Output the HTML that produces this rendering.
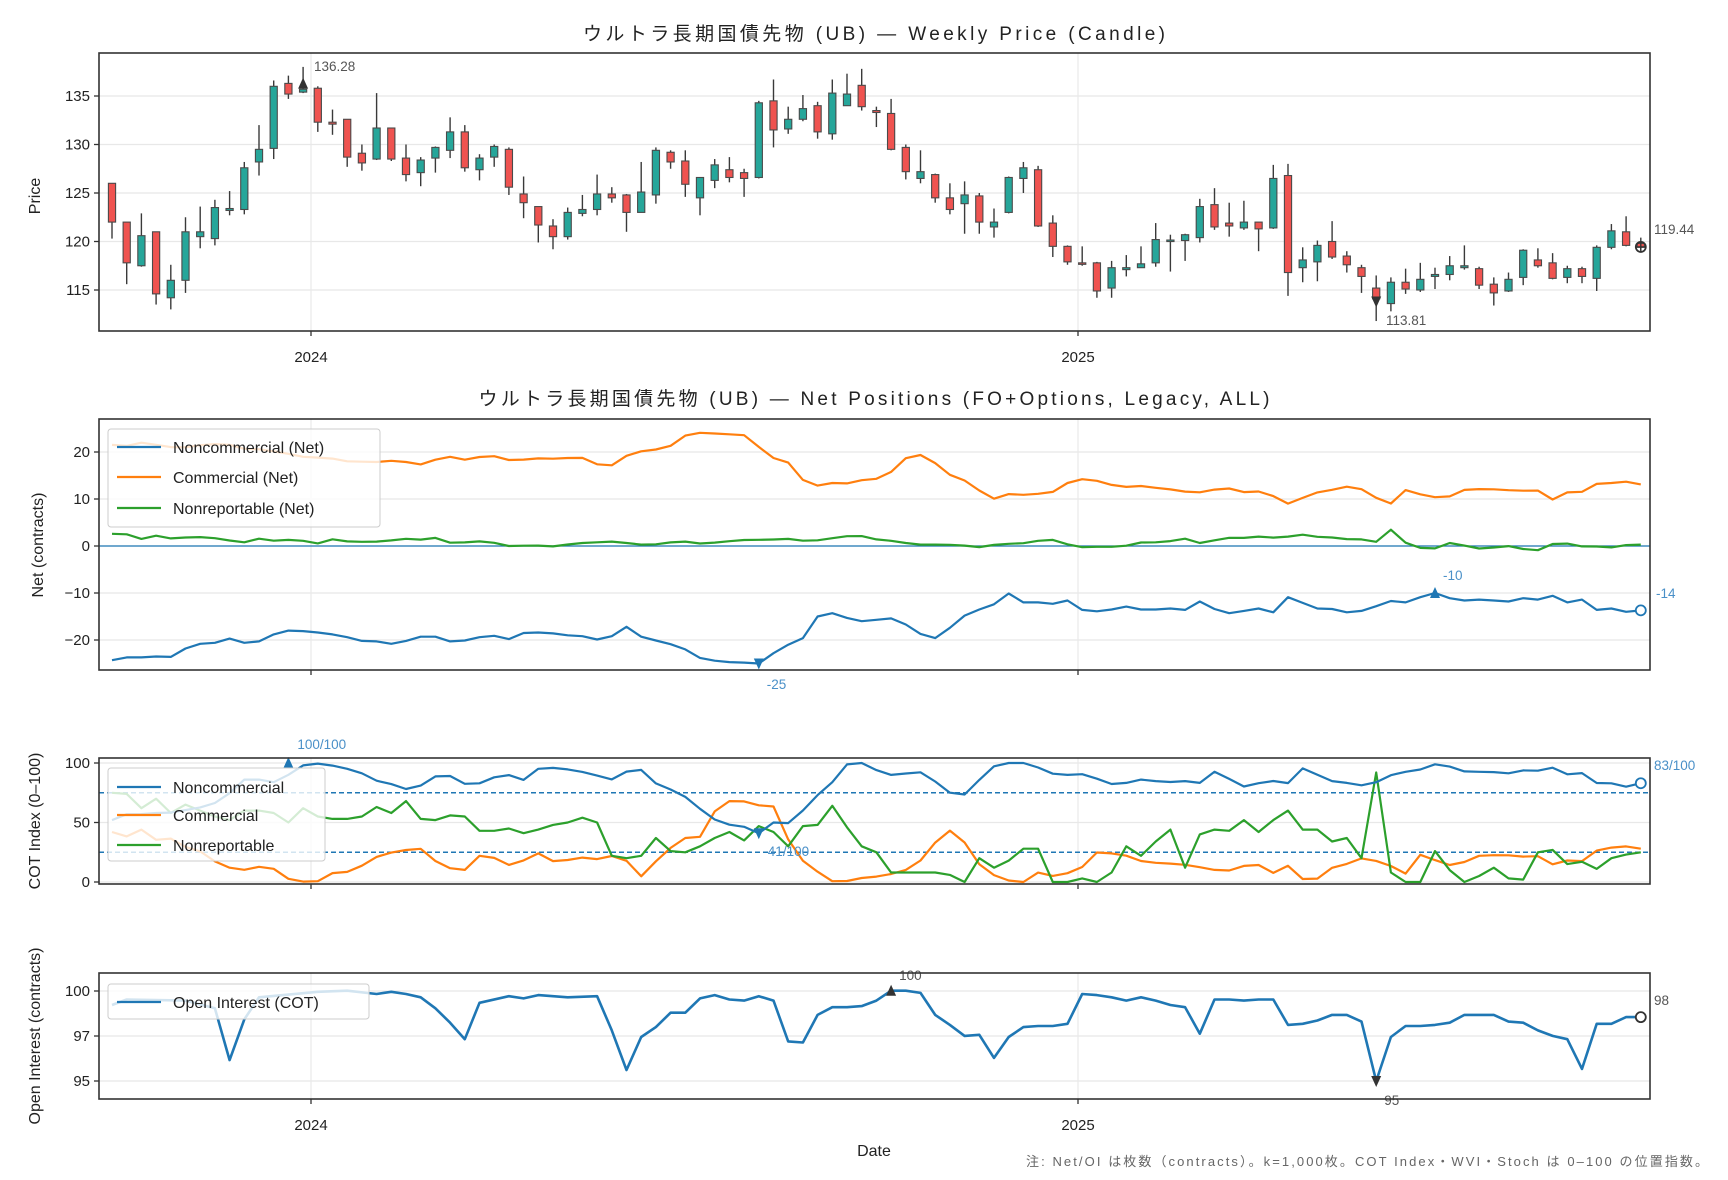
<!DOCTYPE html>
<html><head><meta charset="utf-8"><style>
html,body{margin:0;padding:0;background:#fff;}
svg{display:block;font-family:"Liberation Sans","Noto Sans CJK JP",sans-serif;}
</style></head><body>
<svg id="s" width="1728" height="1180" xmlns="http://www.w3.org/2000/svg"></svg>
<script>
const L=99,R=1650,N=105;
const X=i=>112+i*14.7;
let o='';
function t(x,y,s,sz,anc,fill,extra){o+=`<text x="${x}" y="${y}" font-size="${sz}" text-anchor="${anc||'start'}" fill="${fill||'#222'}" ${extra||''}>${s}</text>`;}
function line(x1,y1,x2,y2,c,w,extra){o+=`<line x1="${x1}" y1="${y1}" x2="${x2}" y2="${y2}" stroke="${c}" stroke-width="${w}" ${extra||''}/>`;}
function res(a){const r=[];for(let i=0;i<N;i++){const tt=i*(a.length-1)/(N-1),k=Math.floor(tt),f=tt-k;r.push(k+1<a.length?a[k]*(1-f)+a[k+1]*f:a[k]);}return r;}
function poly(vals,fy,c,w){let p=vals.map((v,i)=>X(i).toFixed(1)+','+fy(v).toFixed(1)).join(' ');o+=`<polyline points="${p}" fill="none" stroke="${c}" stroke-width="${w}" stroke-linejoin="round"/>`;}
function panel(top,bot,yt,fy){
  yt.forEach(([v,l])=>{const y=fy(v);line(L,y,R,y,'#e8e8e8',1.2);line(L-5,y,L,y,'#333',1.3);t(L-9,y+5,l,15,'end');});
  [311,1078].forEach(x=>{line(x,top,x,bot,'#e8e8e8',1.2);line(x,bot,x,bot+5,'#333',1.3);});
}
function frame(top,bot){o+=`<rect x="${L}" y="${top}" width="${R-L}" height="${bot-top}" fill="none" stroke="#333" stroke-width="1.6"/>`;}
// ---------- Panel 1
const py=p=>96+(135-p)*9.7;
panel(53,331,[[115,'115'],[120,'120'],[125,'125'],[130,'130'],[135,'135']],py);
const C=[[126,122,126,120.3],[122,117.8,122,115.6],[117.5,120.6,122.9,117.4],[121,114.6,121,113.5],[114.2,116,117.6,113],[116,121,122.5,114.7],[120.5,121,123.6,119.3],[120.3,123.5,124.3,119.6],[123.2,123.4,125.2,122.7],[123.3,127.6,128.2,122.8],[128.2,129.5,132,126.8],[129.6,136,136.6,128.5],[136.3,135.2,137.1,134.7],[135.4,135.7,138,135.3],[135.8,132.3,136,131.3],[132.3,132.1,133.6,131],[132.6,128.7,132.6,127.7],[129.1,128.1,130,127.3],[128.5,131.7,135.3,128.4],[131.7,128.5,131.7,128.3],[128.6,126.9,130,126.2],[127.1,128.4,128.7,125.7],[128.6,129.7,129.8,127.1],[129.4,131.3,132.8,128.6],[131.3,127.6,132,127.2],[127.4,128.6,129,126.3],[128.7,129.8,130,127.7],[129.5,125.6,129.7,124.8],[124.9,124,126.7,122.4],[123.6,121.7,123.6,119.9],[121.6,120.5,122.3,119.2],[120.5,123,123.5,120.2],[122.9,123.3,124.8,122.6],[123.3,124.9,126.9,122.7],
[124.9,124.5,125.6,124],[124.8,123,124.9,121],[123,125.1,128.2,123],[124.8,129.4,129.7,123.9],[129.2,128.2,129.4,127.5],[128.3,125.9,129.4,124.6],[124.5,126.6,126.6,122.7],[126.3,127.9,128.5,125.5],[127.4,126.6,128.7,126.1],[127.1,126.5,127.5,124.6],[126.6,134.3,134.5,126.5],[134.5,131.5,136.7,129.7],[131.6,132.6,133.9,131.1],[132.6,133.7,135.1,132.4],[134,131.3,134.4,130.6],[131.1,135.3,136.7,130.5],[134,135.2,137.3,134.3],[136.1,133.9,137.8,133.5],[133.5,133.3,133.9,131.8],[133.2,129.5,134.7,129.4],[129.7,127.2,130,126.4],[126.5,127.2,129.4,126],[126.9,124.5,127,124],[124.5,123.3,126,122.8],[123.9,124.8,126.2,120.8],[124.7,122,125,120.8],[121.5,122,123.4,120.4],[123,126.6,126.7,122.9],[126.5,127.6,128.2,125],[127.4,121.6,127.8,121.5],[121.9,119.5,122.7,118.4],[119.5,117.9,119.6,117.6],[117.8,117.7,119.5,117.5],[117.8,114.9,117.9,114.2],[115.2,117.3,118,114.2],[117.1,117.3,118.6,116.4],
[117.3,117.7,119.5,117.3],[117.8,120.2,121.9,117.4],[120.05,120.15,120.7,116.9],[120.1,120.7,120.8,118],[120.4,123.6,124.4,119.9],[123.8,121.5,125.5,121.2],[121.9,121.6,124,120.5],[121.4,122,124.2,121.2],[122,121.3,122,119],[121.4,126.5,127.9,121.3],[126.8,116.8,128,114.4],[117.3,118.1,119.4,115.8],[117.9,119.6,120.1,115.9],[120,118.4,122.1,118.2],[118.5,117.6,119,116.8],[117.3,116.4,117.6,114.7],[115.2,114.1,116.5,111.8],[113.6,115.8,116.3,112.8],[115.8,115.1,117.2,114.6],[115,116.1,117.8,114.8],[116.4,116.6,117.3,115.1],[116.6,117.5,118.5,116],[117.3,117.5,119.6,117.1],[117.2,115.5,117.4,115.1],[115.6,114.7,116.3,113.4],[114.9,116.1,116.8,114.8],[116.3,119.1,119.2,115.5],[118.1,117.5,119.3,117.3],[117.8,116.2,118.8,116.1],[116.3,117.2,117.5,115.7],[117.2,116.4,117.4,115.7],[116.2,119.4,119.6,114.9],[119.4,121.1,121.8,119.2],[121,119.6,122.6,119.5],[119.8,119.4,120.4,119.1]];
C.forEach((c,i)=>{const x=X(i);const [op,cl,h,l]=c;line(x,py(h),x,py(l),'#3a3a3a',1.4);
 const y1=py(Math.max(op,cl)),y2=py(Math.min(op,cl));const hh=Math.max(y2-y1,1.5);
 o+=`<rect x="${x-3.6}" y="${y1}" width="7.2" height="${hh}" fill="${cl>=op?'#26a69a':'#ef5350'}" stroke="#4a4a4a" stroke-width="1.1"/>`;});
o+=`<polygon points="${X(13)-5},${py(136.28)+5} ${X(13)+5},${py(136.28)+5} ${X(13)},${py(136.28)-6}" fill="#333"/>`;
t(314,71,'136.28',13.5,'start','#555');
o+=`<polygon points="${X(86)-5},${py(113.81)-5} ${X(86)+5},${py(113.81)-5} ${X(86)},${py(113.81)+6}" fill="#333"/>`;
t(1386,325,'113.81',13.5,'start','#555');
o+=`<circle cx="${X(104)}" cy="${py(119.44)}" r="5" fill="none" stroke="#333" stroke-width="1.8"/>`;line(X(104)-5,py(119.44),X(104)+5,py(119.44),'#333',1.4);line(X(104),py(119.44)-5,X(104),py(119.44)+5,'#333',1.4);
t(1654,234,'119.44',13.5,'start','#555');
frame(53,331);
t(874,40,'ウルトラ長期国債先物 (UB) — Weekly Price (Candle)',19,'middle','#222','textLength="582" lengthAdjust="spacing"');
t(311,362,'2024',15,'middle');t(1078,362,'2025',15,'middle');
t(0,0,'Price',16,'middle','#222','transform="translate(40,196) rotate(-90)"');
// ---------- Panel 2
const ny=v=>546-v*4.7;
panel(419,670,[[-20,'−20'],[-10,'−10'],[0,'0'],[10,'10'],[20,'20']],ny);
line(L,ny(0),R,ny(0),'#1f77b4',1.3);
const com=[21.5,21.3,22,21.5,21,21,21.5,21.7,21.5,20.5,20.6,20,19.5,18.8,18.8,18.5,17.8,18,17.8,18.3,17.6,17.2,19.2,18.8,18,19.8,18.4,18.2,18.6,18.7,18.4,19.2,18,16.3,18.8,20,20.5,20.6,23.3,24.1,24,23.7,24,21.5,18.8,18.2,14.2,12.8,13.4,13.3,14,14.3,15.8,18.8,19.4,17.5,14.9,13.8,11.5,9.8,11.3,10.8,11.2,11.6,14,14.3,13.7,12.7,12.5,12.9,12.1,12,11.3,11.5,12.4,12.1,10.9,12.3,8.8,9.3,11.4,11.4,12.8,12.3,11.7,7.5,12.2,11.2,10.5,10.1,11.9,12.1,12.1,11.9,11.7,12.1,9.7,11.4,11.4,13.2,13.4,13.7,13.1];
const nrp=[2.6,2.5,1.5,2.2,1.6,1.8,1.9,1.7,1.2,0.7,1.6,1.1,1.3,1.2,0.4,1.5,1,0.9,0.9,1.1,1.6,1.2,2,0.7,0.7,1,0.9,0,0,0.2,-0.2,0.2,0.6,0.7,1,0.8,0.3,0.3,0.5,1.2,0.5,0.6,0.9,1.2,1.4,1.2,1.6,1.4,0.8,1.7,1.6,2.6,1.6,1.2,1,0.3,0.3,0.3,0.2,0,-0.4,0.7,0.3,0.8,1.3,1.3,-0.2,-0.3,-0.1,-0.2,0.2,1,0.7,1.2,1.7,0.2,1.6,1.8,1.7,2.1,1.7,2.1,2.5,1.8,1.8,1.4,1.4,0.8,4,0.1,-0.5,-0.5,0.8,0,-0.6,-0.3,0,-0.7,-0.9,0.5,0.5,-0.1,-0.1,-0.3,0.2,0.3];
const nc=[-24.3,-23.7,-23.7,-23.5,-23.6,-21.8,-20.8,-20.6,-19.7,-20.6,-20.3,-18.8,-18,-18.1,-18.4,-18.8,-19.4,-20.2,-20.3,-20.8,-20.2,-19.3,-19.3,-20.3,-20.1,-19.4,-19.1,-19.8,-18.5,-18.4,-18.6,-19,-19.2,-19.9,-19.2,-17.2,-19.3,-20.1,-20.9,-22,-23.8,-24.4,-24.7,-24.8,-25,-22.8,-21,-19.6,-15,-14.3,-15.3,-16,-15.7,-15.4,-16.7,-18.7,-19.6,-17.4,-14.8,-13.5,-12.4,-10.1,-12,-12,-12.3,-11.6,-13.6,-13.9,-13.5,-12.9,-13.5,-13.5,-13.3,-13.6,-11.8,-13.4,-14.3,-13.8,-13.3,-14.1,-10.9,-12.1,-13.3,-13.4,-14.1,-13.8,-12.8,-11.7,-12,-10.9,-10,-11.1,-11.6,-11.4,-11.6,-11.8,-11.1,-11.4,-10.6,-12,-11.4,-13.6,-13.3,-14,-13.7];
const ncr=res(nc);
poly(res(com),ny,'#ff7f0e',2.2);poly(res(nrp),ny,'#2ca02c',2.2);poly(ncr,ny,'#1f77b4',2.2);
let imin=0,imax=0;ncr.forEach((v,i)=>{if(v<ncr[imin])imin=i;if(v>ncr[imax])imax=i;});
o+=`<polygon points="${X(imin)-5},${ny(ncr[imin])-5} ${X(imin)+5},${ny(ncr[imin])-5} ${X(imin)},${ny(ncr[imin])+6}" fill="#1f77b4"/>`;
o+=`<polygon points="${X(imax)-5},${ny(ncr[imax])+5} ${X(imax)+5},${ny(ncr[imax])+5} ${X(imax)},${ny(ncr[imax])-6}" fill="#1f77b4"/>`;
t(X(imin)+8,689,'-25',13.5,'start','#4a90c8');t(X(imax)+8,580,'-10',13.5,'start','#4a90c8');
o+=`<circle cx="${X(104)}" cy="${ny(ncr[104])}" r="5" fill="#fff" stroke="#1f77b4" stroke-width="1.8"/>`;
t(1656,598,'-14',13.5,'start','#4a90c8');
frame(419,670);
t(874,405,'ウルトラ長期国債先物 (UB) — Net Positions (FO+Options, Legacy, ALL)',19,'middle','#222','textLength="791" lengthAdjust="spacing"');
t(0,0,'Net (contracts)',16,'middle','#222','transform="translate(43,545) rotate(-90)"');
function legend(x,y,w,h,items){o+=`<rect x="${x}" y="${y}" width="${w}" height="${h}" rx="3" fill="#fff" fill-opacity="0.8" stroke="#ccc" stroke-width="1"/>`;
 items.forEach(([yy,c,s])=>{line(x+9,yy,x+53,yy,c,2.2);t(x+65,yy+6,s,16,'start','#222');});}
legend(108,429,272,98,[[447,'#1f77b4','Noncommercial (Net)'],[477,'#ff7f0e','Commercial (Net)'],[508,'#2ca02c','Nonreportable (Net)']]);
// ---------- Panel 3
const cy=v=>882-v*1.19;
panel(758,884,[[0,'0'],[50,'50'],[100,'100']],cy);
const cb=[52,57,57,58,58,60,62,65,70,85,88,83,85,96,100,99,97,94,90,83,82,77,82,90,89,82,83,88,90,85,95,96,95,93,91,85,89,100,85,80,75,68,56,50,47,46,44,41,52,62,75,85,100,100,94,90,91,93,86,76,71,82,96,100,100,100,91,91,89,92,83,82,84,87,84,84,85,83,94,86,80,83,85,82,96,91,85,84,81,82,88,93,92,98,100,94,92,93,92,91,95,93,97,89,92,82,83,80,83];
const co=[42,38,45,35,38,30,28,20,12,12,8,18,5,1,0,1,10,8,15,22,25,27,28,18,12,8,22,22,15,13,28,18,17,20,21,18,24,15,1,22,30,38,38,60,68,68,64,68,40,20,12,1,0,2,5,4,9,11,22,38,45,30,12,5,1,0,8,5,7,10,25,24,24,18,17,15,16,13,12,9,10,15,14,6,15,1,3,12,15,20,18,16,2,24,20,15,13,22,22,23,22,21,22,12,20,17,28,29,30,28];
const cg=[75,74,62,70,58,65,60,55,52,60,60,58,50,62,55,53,53,55,63,58,68,53,52,56,55,43,43,45,41,44,48,50,54,50,22,20,22,37,26,25,30,37,42,35,47,42,30,47,48,64,46,30,25,8,8,8,8,6,0,20,12,18,28,28,0,0,3,0,8,30,22,34,44,12,40,44,43,52,42,52,60,44,44,34,37,20,92,8,0,0,26,10,0,5,12,3,2,25,27,15,17,11,20,23,25];
line(L,cy(75),R,cy(75),'#1f77b4',1.4,'stroke-dasharray="5,3"');line(L,cy(25),R,cy(25),'#1f77b4',1.4,'stroke-dasharray="5,3"');
const cbr=res(cb);
cbr[44]=41;cbr[43]=Math.max(cbr[43],44);cbr[45]=Math.max(cbr[45],50);
poly(res(co),cy,'#ff7f0e',2.2);poly(res(cg),cy,'#2ca02c',2.2);poly(cbr,cy,'#1f77b4',2.2);
o+=`<polygon points="${X(12)-5},${cy(100)+5} ${X(12)+5},${cy(100)+5} ${X(12)},${cy(100)-6}" fill="#1f77b4"/>`;
t(X(12)+9,749,'100/100',13.5,'start','#4a90c8');
o+=`<polygon points="${X(44)-5},${cy(41)-5} ${X(44)+5},${cy(41)-5} ${X(44)},${cy(41)+6}" fill="#1f77b4"/>`;
t(X(44)+9,856,'41/100',13.5,'start','#4a90c8');
o+=`<circle cx="${X(104)}" cy="${cy(cbr[104])}" r="5" fill="#fff" stroke="#1f77b4" stroke-width="1.8"/>`;
t(1654,770,'83/100',13.5,'start','#4a90c8');
frame(758,884);
legend(108,768,217,93,[[787,'#1f77b4','Noncommercial'],[815,'#ff7f0e','Commercial'],[845,'#2ca02c','Nonreportable']]);
t(0,0,'COT Index (0–100)',16,'middle','#222','transform="translate(40,821) rotate(-90)"');
// ---------- Panel 4
const oy=v=>v*1.102;
[[991,'100'],[1036,'97'],[1081,'95']].forEach(([y,l])=>{line(L,y,R,y,'#e8e8e8',1.2);line(L-5,y,L,y,'#333',1.3);t(L-9,y+5,l,15,'end');});
[311,1078].forEach(x=>{line(x,973,x,1099,'#e8e8e8',1.2);line(x,1099,x,1104,'#333',1.3);});
const kp=[[0,912],[1,907],[5,908],[7,915],[8,962],[9,925],[10,905],[14,900],[16,899],[18,902],[19,900],[20,902],[21,905],[22,915],[23,928],[24,943],[25,910],[27,904],[28,906],[29,903],[31,905],[33,904],[34,935],[35,971],[36,941],[37,932],[38,919],[39,919],[40,906],[41,903],[42,907],[43,908],[44,904],[45,908],[46,945],[47,946],[48,921],[49,914],[50,914],[51,913],[52,908],[53,899],[54,899],[55,901],[56,921],[57,930],[58,940],[59,939],[60,960],[61,941],[62,932],[63,931],[64,931],[65,929],[66,902],[67,903],[68,905],[69,908],[70,905],[71,908],[72,912],[73,914],[74,938],[75,907],[76,907],[77,908],[78,907],[79,907],[80,930],[81,929],[82,926],[83,921],[84,921],[85,927],[86,981],[87,941],[88,931],[89,931],[90,930],[91,928],[92,921],[93,921],[94,921],[95,927],[96,928],[97,935],[98,940],[99,943],[100,970],[101,929],[102,929],[103,923],[104,923]];
o+=`<polyline points="${kp.map(([i,y])=>X(i).toFixed(1)+','+oy(y).toFixed(1)).join(' ')}" fill="none" stroke="#1f77b4" stroke-width="2.6" stroke-linejoin="round"/>`;
o+=`<polygon points="${X(53)-5},${oy(899)+5} ${X(53)+5},${oy(899)+5} ${X(53)},${oy(899)-6}" fill="#333"/>`;
t(X(53)+8,980,'100',13.5,'start','#555');
o+=`<polygon points="${X(86)-5},${oy(981)-5} ${X(86)+5},${oy(981)-5} ${X(86)},${oy(981)+6}" fill="#333"/>`;
t(X(86)+8,1105,'95',13.5,'start','#555');
o+=`<circle cx="${X(104)}" cy="${oy(923)}" r="5" fill="#fff" stroke="#333" stroke-width="1.8"/>`;
t(1654,1005,'98',13.5,'start','#555');
frame(973,1099);
legend(108,984,261,35,[[1002,'#1f77b4','Open Interest (COT)']]);
t(311,1130,'2024',15,'middle');t(1078,1130,'2025',15,'middle');
t(874,1156,'Date',16,'middle');
t(0,0,'Open Interest (contracts)',16,'middle','#222','transform="translate(40,1036) rotate(-90)"');
t(1708,1166,'注: Net/OI は枚数（contracts）。k=1,000枚。COT Index・WVI・Stoch は 0–100 の位置指数。',13,'end','#666','textLength="682" lengthAdjust="spacing"');
document.getElementById('s').innerHTML=o;
</script>
</body></html>
